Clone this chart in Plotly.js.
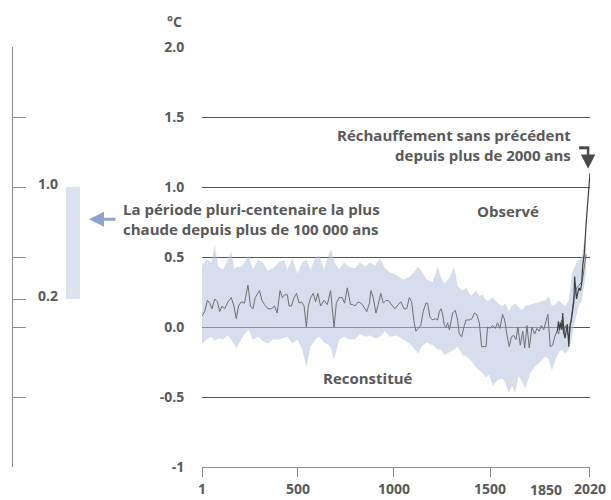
<!DOCTYPE html>
<html>
<head>
<meta charset="utf-8">
<script src="https://cdn.plot.ly/plotly-3.0.1.min.js"></script>
<style>
html,body{margin:0;padding:0;background:#fff;}
#chart{width:611px;height:500px;}
</style>
</head>
<body>
<div id="chart"></div>
<script>
// Reconstructed (paleo) global temperature, °C relative to 1850-1900
const reconYear = [1,15,29,41,53,67,81,93,105,119,136,153,167,179,191,205,222,240,253,266,278,300,313,326,344,361,378,392,
  407,419,431,445,454,466,480,493,506,518,532,544,554,566,580,592,604,618,636,653,670,688,700,714,731,743,757,774,
  785,797,814,828,840,858,872,880,892,906,918,931,944,958,970,988,1005,1022,1036,1052,1066,1080,1092,1104,1114,1126,1139,1152,1166,
  1175,1187,1201,1215,1227,1236,1245,1253,1262,1271,1279,1288,1297,1305,1319,1331,1340,1352,1366,1375,1392,1406,1418,1430,1444,1456,1470,1479,1487,1499,1513,1527,1539,1551,1565,1576,
  1583,1588,1600,1611,1623,1635,1645,1657,1670,1680,1692,1704,1718,1732,1744,1756,1767,1779,1791,1801,1813,1826,1836,1848,1857,1865,1874,1883,1891,1900,1910,1920,1935,1950,1965,1980,1990,2000];
const reconValue = [0.08,0.11,0.19,0.17,0.13,0.20,0.18,0.11,0.15,0.13,0.18,0.21,0.15,0.06,0.15,0.18,0.17,0.30,0.15,0.13,0.21,0.26,0.19,0.16,0.13,0.13,0.15,0.10,
  0.26,0.21,0.23,0.23,0.15,0.15,0.21,0.24,0.17,0.18,0.15,0.00,0.15,0.21,0.24,0.18,0.24,0.15,0.19,0.16,0.26,0.00,0.17,0.21,0.21,0.17,0.28,0.16,
  0.16,0.15,0.18,0.17,0.15,0.11,0.17,0.26,0.21,0.10,0.16,0.24,0.17,0.19,0.19,0.16,0.13,0.16,0.18,0.13,0.13,0.21,0.18,0.04,-0.03,-0.01,0.01,0.11,0.17,
  0.17,0.07,0.05,0.06,0.05,0.11,0.13,0.09,0.01,0.00,0.03,-0.02,0.04,0.10,0.12,0.05,-0.05,-0.07,0.01,0.05,0.05,0.06,0.10,0.09,0.03,-0.14,-0.14,-0.14,0.00,-0.01,0.01,-0.01,0.03,-0.01,0.09,0.05,
  -0.01,-0.06,-0.14,-0.07,-0.06,-0.09,0.00,-0.13,-0.03,-0.15,0.01,-0.15,0.00,-0.05,-0.01,-0.03,0.01,-0.02,0.04,0.09,-0.14,-0.13,-0.07,-0.03,-0.05,0.03,0.05,-0.05,0.01,-0.02,-0.08,0.02,0.20,0.28,0.30,0.33,0.42,0.52];

// Uncertainty band of the reconstruction
const bandYear = [1,25,50,67,85,110,135,153,170,180,205,222,243,266,292,318,344,370,402,428,445,471,497,523,544,566,592,610,636,662,674,688,714,740,766,
  797,823,849,875,901,927,953,979,1014,1048,1083,1109,1126,1144,1170,1201,1227,1245,1262,1288,1314,1331,1357,1375,1401,1427,1444,1461,1479,1496,1513,1539,1565,
  1579,1597,1614,1631,1649,1666,1683,1709,1735,1761,1787,1805,1822,1839,1857,1874,1891,1909,1926,1943,1961,1978,1990,2000];
const bandUpper = [0.44,0.48,0.46,0.59,0.43,0.41,0.48,0.54,0.41,0.43,0.43,0.46,0.51,0.41,0.48,0.46,0.40,0.42,0.46,0.48,0.41,0.49,0.38,0.46,0.48,0.41,0.50,0.51,0.41,0.53,0.55,0.47,0.41,0.46,0.43,
  0.42,0.46,0.43,0.46,0.44,0.49,0.42,0.39,0.37,0.34,0.36,0.40,0.43,0.40,0.34,0.32,0.43,0.35,0.31,0.35,0.43,0.29,0.26,0.28,0.22,0.26,0.22,0.23,0.19,0.19,0.21,0.17,0.15,
  0.17,0.11,0.15,0.17,0.14,0.12,0.15,0.16,0.17,0.18,0.19,0.22,0.15,0.16,0.19,0.17,0.15,0.19,0.38,0.44,0.48,0.50,0.62,0.65];
const bandLower = [-0.12,-0.09,-0.07,-0.10,-0.08,-0.09,-0.06,-0.09,-0.13,-0.15,-0.09,-0.05,-0.02,-0.09,-0.07,-0.10,-0.12,-0.09,-0.09,-0.08,-0.07,-0.12,-0.09,-0.16,-0.29,-0.14,-0.09,-0.07,-0.11,-0.13,-0.16,-0.24,-0.09,-0.07,-0.09,
  -0.09,-0.05,-0.07,-0.06,-0.08,-0.07,-0.03,-0.07,-0.06,-0.09,-0.12,-0.16,-0.19,-0.14,-0.11,-0.13,-0.16,-0.16,-0.20,-0.18,-0.16,-0.14,-0.20,-0.21,-0.24,-0.29,-0.31,-0.33,-0.36,-0.34,-0.42,-0.38,-0.37,
  -0.40,-0.47,-0.42,-0.47,-0.35,-0.39,-0.44,-0.33,-0.28,-0.25,-0.21,-0.23,-0.31,-0.24,-0.18,-0.16,-0.19,-0.16,-0.08,0.05,0.15,0.19,0.30,0.40];

// Observed global surface temperature
const obsYear = [1850,1856,1862,1868,1874,1878,1884,1890,1896,1902,1910,1916,1922,1930,1936,1940,1945,1950,1956,1962,1970,1976,1982,1990,2000,2010,2020];
const obsValue = [-0.03,0.04,-0.02,0.03,-0.02,0.10,-0.04,-0.08,-0.03,0.02,-0.14,0.02,0.04,0.12,0.18,0.36,0.30,0.20,0.24,0.28,0.26,0.30,0.44,0.52,0.74,0.92,1.10];

// Warmest multi-century period in more than 100,000 years
const periodLow = 0.2;
const periodHigh = 1.0;

// Axis ticks and labels
const yTickVals = [-1,-0.5,0,0.5,1,1.5,2];
const yTickText = ['-1','-0.5','0.0','0.5','1.0','1.5','2.0'];
const xTickVals = [1,500,1000,1500,2020];
const xTickText = ['1','500','1000','1500','2020'];
const leftTickVals = [-1,-0.5,0,0.2,0.5,1,1.5,2];

const FONT = '"Open Sans", "Noto Sans", sans-serif';
const TXT = '#595959';
const FS = 15;

const traces = [
  {x: bandYear, y: bandLower, type:'scatter', mode:'lines', line:{width:0, color:'rgba(0,0,0,0)'}, hoverinfo:'skip', showlegend:false},
  {x: bandYear, y: bandUpper, type:'scatter', mode:'lines', line:{width:0, color:'rgba(0,0,0,0)'}, fill:'tonexty', fillcolor:'rgba(180,193,222,0.55)', hoverinfo:'skip', showlegend:false},
  {x: reconYear, y: reconValue, type:'scatter', mode:'lines', line:{width:1, color:'#6f6f6f'}, showlegend:false},
  {x: obsYear, y: obsValue, type:'scatter', mode:'lines', line:{width:1.2, color:'#3f3f3f'}, showlegend:false},
  {x:[0.347], y:[periodHigh - periodLow], base:[periodLow], type:'bar', width:[0.081], marker:{color:'#dce2ef'}, xaxis:'x2', yaxis:'y2', showlegend:false, hoverinfo:'skip'}
];

const layout = {
  width:611, height:500,
  margin:{l:13, r:21, t:47, b:33},
  paper_bgcolor:'#fff', plot_bgcolor:'rgba(0,0,0,0)',
  font:{family:FONT, size:FS, color:TXT},
  showlegend:false,
  xaxis:{domain:[0.3276,1], range:[1,2020], tickvals:xTickVals, ticktext:xTickText,
    showline:true, linecolor:'#8c8c8c', linewidth:1, ticks:'outside', ticklen:9, tickcolor:'#8c8c8c',
    showgrid:false, zeroline:false, tickfont:{family:FONT, size:FS-1, color:TXT, weight:'bold'}},
  yaxis:{range:[-1,2], tickvals:yTickVals, ticktext:yTickText, showgrid:true, gridcolor:'#555555', gridwidth:1,
    zeroline:false, showline:false, ticks:'outside', ticklen:14, tickcolor:'rgba(0,0,0,0)',
    tickfont:{family:FONT, size:FS-1, color:TXT, weight:'bold'}},
  xaxis2:{domain:[0,0.3], range:[0,1], visible:false, anchor:'y2'},
  yaxis2:{domain:[0,1], range:[-1,2], anchor:'x2', tickvals:leftTickVals, showticklabels:false,
    showline:true, linecolor:'#8c8c8c', linewidth:1.5, ticks:'inside', ticklen:13, tickcolor:'#8c8c8c', tickwidth:1,
    showgrid:false, zeroline:false},
  annotations:[
    {xref:'paper', yref:'paper', x:0.2965, y:1, yshift:14, xanchor:'right', yanchor:'bottom', text:'<b>°C</b>', showarrow:false, font:{size:FS-1, color:TXT}},
    {xref:'x2', yref:'y2', x:0.2, y:periodHigh, yshift:4, text:'<b>1.0</b>', showarrow:false, font:{size:FS-1, color:TXT}},
    {xref:'x2', yref:'y2', x:0.2, y:periodLow, yshift:4, text:'<b>0.2</b>', showarrow:false, font:{size:FS-1, color:TXT}},
    {xref:'x', yref:'y', x:1850, y:-1, yshift:-22, xshift:-11, text:'<b>1850</b>', showarrow:false, font:{size:FS-1, color:TXT}},
    {xref:'paper', yref:'y', x:0.188, y:0.77, xanchor:'left', align:'left', showarrow:false,
      text:'<b>La période pluri-centenaire la plus<br>chaude depuis plus de 100 000 ans</b>', font:{size:FS, color:TXT}},
    {xref:'paper', yref:'y', x:0.1317, y:0.77, ax:28, ay:0, text:'', showarrow:true, arrowhead:2, arrowsize:1.0, arrowwidth:3, arrowcolor:'#8ea2cf'},
    {xref:'x', yref:'y', x:1930, y:1.30, xanchor:'right', align:'right', showarrow:false,
      text:'<b>Réchauffement sans précédent<br>depuis plus de 2000 ans</b>', font:{size:FS, color:TXT}},
    {xref:'x', yref:'y', x:2010, y:1.13, ax:0, ay:-22, text:'', showarrow:true, arrowhead:2, arrowsize:1.15, arrowwidth:2.5, arrowcolor:'#4a4a4a'},
    {xref:'x', yref:'y', x:1595, y:0.83, text:'<b>Observé</b>', showarrow:false, font:{size:FS, color:TXT}},
    {xref:'x', yref:'y', x:865, y:-0.365, text:'<b>Reconstitué</b>', showarrow:false, font:{size:FS, color:TXT}}
  ],
  shapes:[
    {type:'line', xref:'x', yref:'y', x0:1963, x1:2016, y0:1.28, y1:1.28, line:{color:'#4a4a4a', width:3}}
  ]
};

Plotly.newPlot('chart', traces, layout, {displayModeBar:false, staticPlot:true});
</script>
</body>
</html>
